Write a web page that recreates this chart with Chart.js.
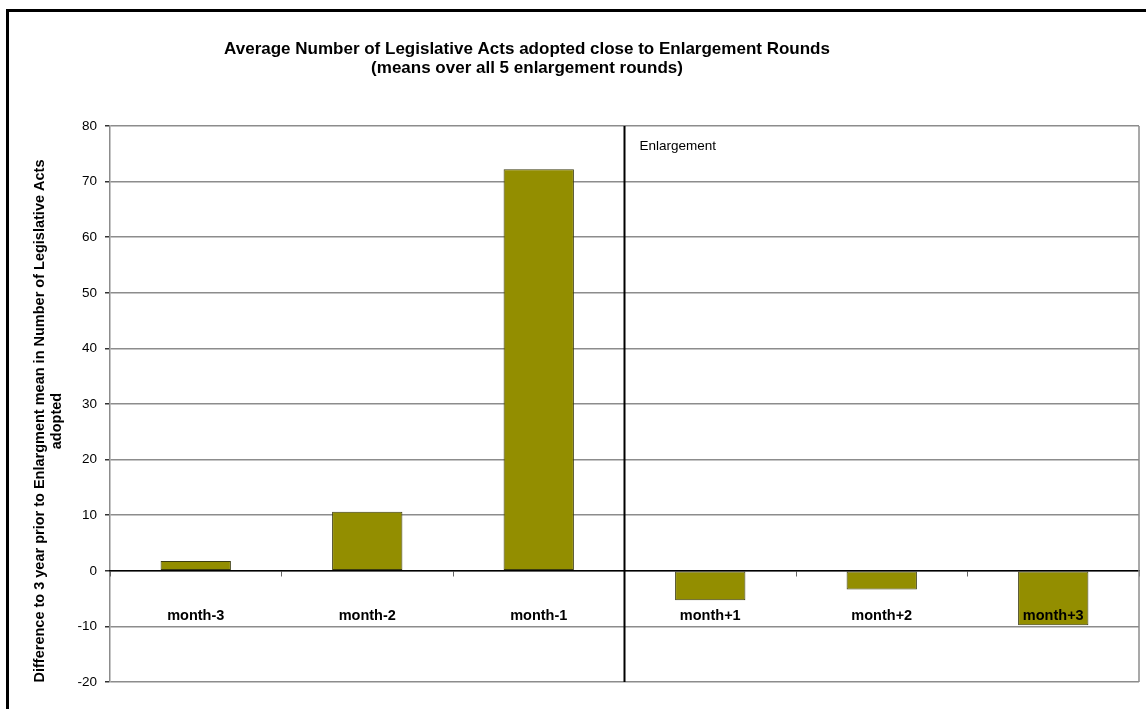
<!DOCTYPE html>
<html lang="en">
<head>
    <meta charset="UTF-8">
    <title>Average Number of Legislative Acts adopted close to Enlargement Rounds</title>
    <script src="https://cdn.jsdelivr.net/npm/chart.js"></script>
    <style>
        body {
            margin: 0;
            overflow: hidden;
            background: white;
            font-family: "Liberation Sans", Arial, sans-serif;
        }
        #frame {
            position: absolute;
            left: 6px;
            top: 9px;
            width: 1200px;
            height: 800px;
            border: 3px solid black;
        }
        #chart-container {
            position: absolute;
            left: 0;
            top: 0;
            width: 1146px;
            height: 709px;
        }
    </style>
</head>
<body>
    <div id="frame"></div>
    <div id="chart-container">
        <canvas id="actsChart"></canvas>
    </div>

    <script>
        // data
        const months = ['month-3', 'month-2', 'month-1', 'month+1', 'month+2', 'month+3'];
        const diffValues = [1.75, 10.6, 72.2, -5.3, -3.35, -9.8];
        const titleLines = [
            'Average Number of Legislative Acts adopted close to Enlargement Rounds',
            '(means over all 5 enlargement rounds)'
        ];
        const yTitle = [
            'Difference to 3 year prior to Enlargment mean in Number of Legislative Acts',
            'adopted'
        ];
        const markerLabel = 'Enlargement';
        const markerAfter = 2; // line sits between month-1 and month+1

        const fontFamily = '"Liberation Sans", Arial, sans-serif';

        // titles, right frame of the plot and the enlargement line
        const extrasPlugin = {
            id: 'extras',
            afterDraw(chart) {
                const ctx = chart.ctx;
                const area = chart.chartArea;
                const x = chart.scales.x;

                ctx.save();
                // right edge of plot area
                ctx.strokeStyle = '#8c8c8c';
                ctx.lineWidth = 1.5;
                ctx.beginPath();
                ctx.moveTo(area.right, area.top);
                ctx.lineTo(area.right, area.bottom);
                ctx.stroke();

                // enlargement divider
                const lx = (x.getPixelForValue(markerAfter) + x.getPixelForValue(markerAfter + 1)) / 2;
                ctx.strokeStyle = '#000';
                ctx.lineWidth = 2;
                ctx.beginPath();
                ctx.moveTo(lx, area.top);
                ctx.lineTo(lx, area.bottom);
                ctx.stroke();

                ctx.fillStyle = '#000';
                ctx.font = '13.5px ' + fontFamily;
                ctx.textAlign = 'left';
                ctx.textBaseline = 'middle';
                ctx.fillText(markerLabel, lx + 15, area.top + 20);

                // chart title
                ctx.font = 'bold 17px ' + fontFamily;
                ctx.textAlign = 'center';
                titleLines.forEach((line, i) => {
                    ctx.fillText(line, 527, 49 + i * 19);
                });

                // y axis title (two lines, rotated)
                ctx.font = 'bold 14.5px ' + fontFamily;
                ctx.translate(40, 421);
                ctx.rotate(-Math.PI / 2);
                yTitle.forEach((line, i) => {
                    ctx.fillText(line, 0, i * 17);
                });
                ctx.restore();
            }
        };

        const ctx = document.getElementById('actsChart').getContext('2d');
        const chart = new Chart(ctx, {
            type: 'bar',
            data: {
                labels: months,
                datasets: [{
                    label: 'Difference',
                    data: diffValues,
                    backgroundColor: '#938e00',
                    borderColor: '#3c3c10',
                    borderWidth: 1,
                    borderSkipped: false,
                    categoryPercentage: 1,
                    barPercentage: 0.41
                }]
            },
            options: {
                responsive: true,
                maintainAspectRatio: false,
                animation: false,
                layout: {
                    padding: { left: 10, top: 126, right: 7, bottom: 27 }
                },
                plugins: {
                    legend: { display: false },
                    tooltip: { enabled: false },
                    title: { display: false }
                },
                scales: {
                    x: {
                        position: { y: 0 },
                        grid: {
                            offset: true,
                            drawOnChartArea: false,
                            tickLength: 5,
                            tickColor: '#666',
                            z: 1
                        },
                        border: { color: '#000', width: 1.5, z: 1 },
                        ticks: {
                            z: 1,
                            padding: 31,
                            color: '#000',
                            font: { family: fontFamily, size: 14.5, weight: 'bold' }
                        }
                    },
                    y: {
                        min: -20,
                        max: 80,
                        afterFit(scale) {
                            scale.width = 100;
                        },
                        grid: {
                            color: '#8c8c8c',
                            lineWidth: 1.5,
                            tickLength: 5,
                            tickColor: '#333'
                        },
                        border: { color: '#8c8c8c', width: 1.5 },
                        ticks: {
                            stepSize: 10,
                            padding: 8,
                            color: '#000',
                            font: { family: fontFamily, size: 13.5 }
                        }
                    }
                }
            },
            plugins: [extrasPlugin]
        });
    </script>
</body>
</html>
